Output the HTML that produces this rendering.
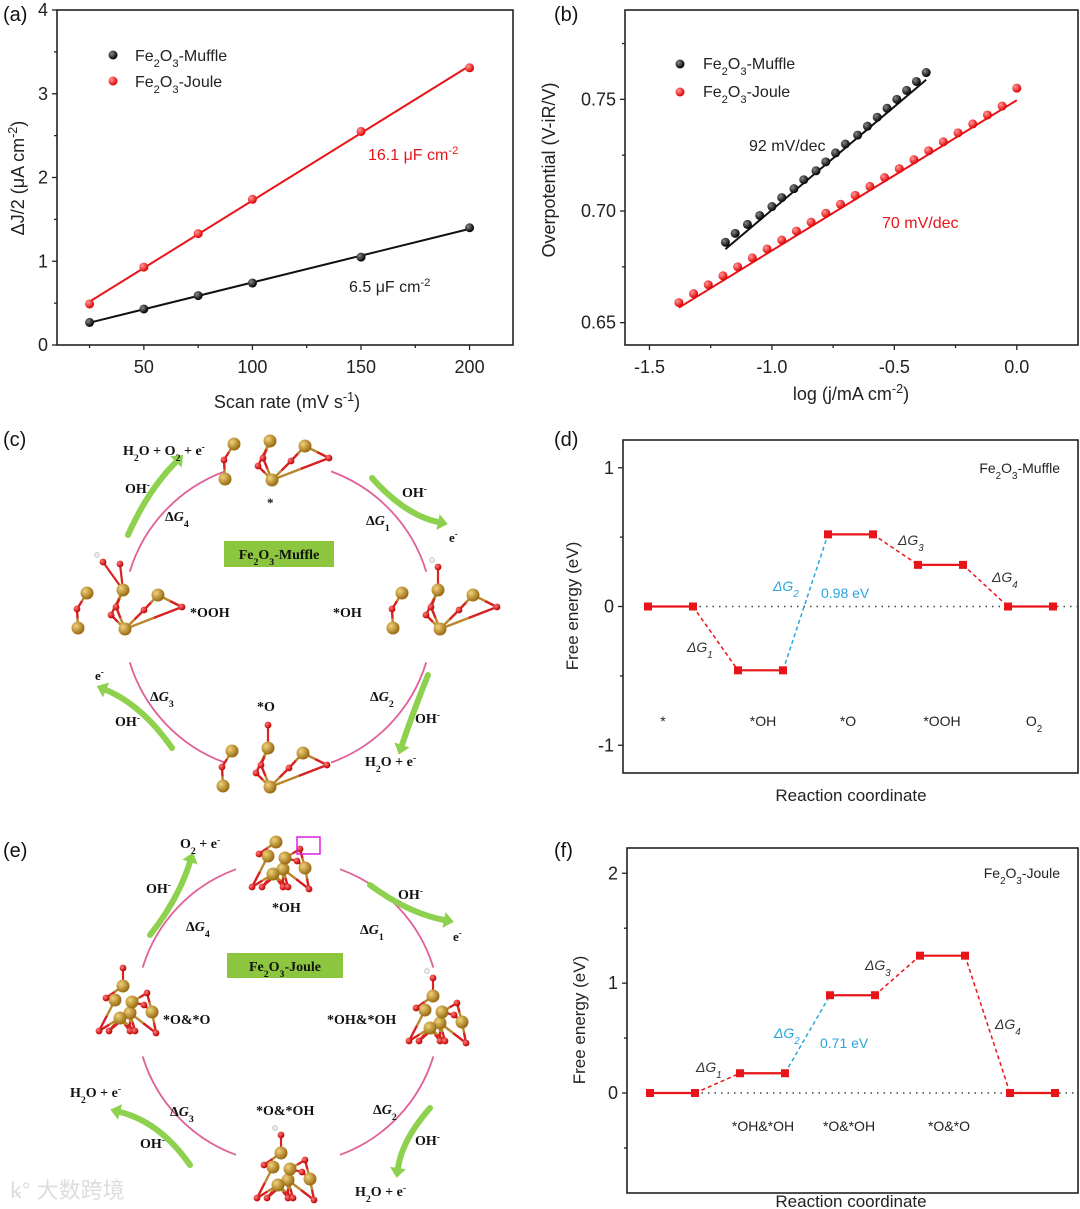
<!DOCTYPE html>
<html><head><meta charset="utf-8">
<style>
html,body{margin:0;padding:0;background:#fff;}
svg{display:block;}
text{font-family:"Liberation Sans",Arial,sans-serif;}
.sf{font-family:"Liberation Serif","Times New Roman",serif;font-weight:bold;}
</style></head>
<body>
<svg id="fig" width="1080" height="1209" viewBox="0 0 1080 1209" xmlns="http://www.w3.org/2000/svg">
<defs>
<radialGradient id="feg" cx="35%" cy="35%" r="65%"><stop offset="0" stop-color="#f0d27a"/><stop offset="1" stop-color="#9a6b12"/></radialGradient>
<radialGradient id="og" cx="35%" cy="35%" r="65%"><stop offset="0" stop-color="#ff7a7a"/><stop offset="1" stop-color="#c00000"/></radialGradient>
<radialGradient id="blk" cx="35%" cy="35%" r="65%"><stop offset="0" stop-color="#888"/><stop offset="1" stop-color="#000"/></radialGradient>
<radialGradient id="red" cx="35%" cy="35%" r="65%"><stop offset="0" stop-color="#ff9a9a"/><stop offset="1" stop-color="#e00000"/></radialGradient>
</defs>
<g id="panel-labels" font-size="20" fill="#111">
<text x="3" y="21">(a)</text>
<text x="554" y="21">(b)</text>
<text x="3" y="446">(c)</text>
<text x="554" y="446">(d)</text>
<text x="3" y="857">(e)</text>
<text x="554" y="857">(f)</text>
</g>
<g id="layer"></g>
<text x="10" y="1198" font-size="22" fill="#ddd" font-family="'Liberation Sans','Noto Sans CJK SC',sans-serif">ꝃ° 大数跨境</text>
</svg>
<script>
// ---------- Panel (a) data ----------
const aScan = [25, 50, 75, 100, 150, 200];
const aMuffle = [0.27, 0.43, 0.59, 0.74, 1.05, 1.40];
const aJoule = [0.49, 0.93, 1.33, 1.74, 2.55, 3.31];
const aXTicks = [50, 100, 150, 200];
const aYTicks = [0, 1, 2, 3, 4];
// ---------- Panel (b) data ----------
const bMuffleX = [-1.19,-1.15,-1.10,-1.05,-1.00,-0.96,-0.91,-0.87,-0.82,-0.78,-0.74,-0.70,-0.65,-0.61,-0.57,-0.53,-0.49,-0.45,-0.41,-0.37];
const bMuffleY = [0.686,0.690,0.694,0.698,0.702,0.706,0.710,0.714,0.718,0.722,0.726,0.730,0.734,0.738,0.742,0.746,0.750,0.754,0.758,0.762];
const bJouleX = [-1.38,-1.32,-1.26,-1.20,-1.14,-1.08,-1.02,-0.96,-0.90,-0.84,-0.78,-0.72,-0.66,-0.60,-0.54,-0.48,-0.42,-0.36,-0.30,-0.24,-0.18,-0.12,-0.06,0.00];
const bJouleY = [0.659,0.663,0.667,0.671,0.675,0.679,0.683,0.687,0.691,0.695,0.699,0.703,0.707,0.711,0.715,0.719,0.723,0.727,0.731,0.735,0.739,0.743,0.747,0.755];
const bXTicks = [-1.5, -1.0, -0.5, 0.0];
const bXTickLabels = ["-1.5", "-1.0", "-0.5", "0.0"];
const bYTicks = [0.65, 0.70, 0.75];
const bYTickLabels = ["0.65", "0.70", "0.75"];
// ---------- Panel (d) data ----------
const dSteps = ["*", "*OH", "*O", "*OOH", "O2"];
const dEnergy = [0, -0.46, 0.52, 0.30, 0];
const dYTicks = [-1, 0, 1];
// ---------- Panel (f) data ----------
const fSteps = ["", "*OH&*OH", "*O&*OH", "*O&*O", ""];
const fEnergy = [0, 0.18, 0.89, 1.25, 0];
const fYTicks = [0, 1, 2];

const NS = "http://www.w3.org/2000/svg";
const layer = document.getElementById('layer');
function mk(tag, attrs, parent){
  const e = document.createElementNS(NS, tag);
  for (const k in attrs) e.setAttribute(k, attrs[k]);
  (parent||layer).appendChild(e);
  return e;
}
function lin(d0,d1,r0,r1){ return v => r0 + (v-d0)/(d1-d0)*(r1-r0); }
function fit(xs, ys){
  const n=xs.length; let sx=0,sy=0,sxx=0,sxy=0;
  for(let i=0;i<n;i++){sx+=xs[i];sy+=ys[i];sxx+=xs[i]*xs[i];sxy+=xs[i]*ys[i];}
  const m=(n*sxy-sx*sy)/(n*sxx-sx*sx); return {m, b:(sy-m*sx)/n};
}
const SUB = s=>`<tspan baseline-shift="sub" font-size="0.7em">${s}</tspan>`;
const SUP = s=>`<tspan baseline-shift="super" font-size="0.7em">${s}</tspan>`;
function frame(g, x0,y0,x1,y1){
  const r = mk('rect',{x:x0,y:y0,width:x1-x0,height:y1-y0,fill:'none',stroke:'#222','stroke-width':1.6},g);
  
  
}
function xTick(g, x, y, len){ mk('line',{x1:x,x2:x,y1:y,y2:y+len,stroke:'#222','stroke-width':1.3},g); }
function yTick(g, x, y, len){ mk('line',{x1:x-len,x2:x,y1:y,y2:y,stroke:'#222','stroke-width':1.3},g); }
function txt(g, x, y, s, attrs){
  const t = mk('text', Object.assign({x:x,y:y}, attrs||{}), g);
  t.innerHTML = s;
  return t;
}
function dot(g, x, y, fill){ return mk('circle',{cx:x,cy:y,r:4.5,fill:fill},g); }

// ================= Panel (a) =================
(function(){
  const g = mk('g',{});
  
  
  const X0=57,X1=513,Y0=10,Y1=345;
  const xs = lin(10,220,X0,X1), ys = lin(0,4,Y1,Y0);
  frame(g,X0,Y0,X1,Y1);
  aXTicks.forEach(v=>{ xTick(g,xs(v),Y1,5); const t=txt(g,xs(v),Y1+28,String(v),{'font-size':18,'text-anchor':'middle',fill:'#222'});
      });
  [25,75,125,175].forEach(v=>xTick(g,xs(v),Y1,3));
  aYTicks.forEach(v=>{ yTick(g,X0,ys(v),5); const t=txt(g,X0-9,ys(v)+6,String(v),{'font-size':18,'text-anchor':'end',fill:'#222'});
      });
  [0.5,1.5,2.5,3.5].forEach(v=>yTick(g,X0,ys(v),3));
  const xt = txt(g,287,408,'Scan rate (mV s'+SUP('-1')+')',{'font-size':18,'text-anchor':'middle',fill:'#222'});
   
  const yt = txt(g,0,0,'ΔJ/2 (μA cm'+SUP('-2')+')',{'font-size':18,'text-anchor':'middle',fill:'#222',transform:'translate(24,178) rotate(-90)'});
   
  [[aMuffle,'#111','url(#blk)','muffle'],[aJoule,'#e8141a','url(#red)','joule']].forEach(([vals,col,fill,nm])=>{
    const f = fit(aScan, vals);
    const l = mk('line',{x1:xs(aScan[0]),y1:ys(f.m*aScan[0]+f.b),x2:xs(aScan[aScan.length-1]),y2:ys(f.m*aScan[aScan.length-1]+f.b),stroke:col,'stroke-width':2},g);
     
    vals.forEach((v,i)=>{ const c=dot(g,xs(aScan[i]),ys(v),fill);
        });
  });
  const lg = mk('g',{},g);
   
  dot(lg,113,55,'url(#blk)'); dot(lg,113,81,'url(#red)');
  txt(lg,135,61,'Fe'+SUB('2')+'O'+SUB('3')+'-Muffle',{'font-size':16,fill:'#222'});
  txt(lg,135,87,'Fe'+SUB('2')+'O'+SUB('3')+'-Joule',{'font-size':16,fill:'#222'});
  const a1=txt(g,368,160,'16.1 μF cm'+SUP('-2'),{'font-size':16,fill:'#e8141a'});
   
  const a2=txt(g,349,292,'6.5 μF cm'+SUP('-2'),{'font-size':16,fill:'#222'});
   
})();

// ================= Panel (b) =================
(function(){
  const g = mk('g',{});
  
  
  const X0=625,X1=1078,Y0=10,Y1=345;
  const xs = lin(-1.6,0.25,X0,X1), ys = lin(0.64,0.79,Y1,Y0);
  frame(g,X0,Y0,X1,Y1);
  bXTicks.forEach((v,i)=>{ xTick(g,xs(v),Y1,5); const t=txt(g,xs(v),Y1+28,bXTickLabels[i],{'font-size':18,'text-anchor':'middle',fill:'#222'});
      });
  [-1.25,-0.75,-0.25].forEach(v=>xTick(g,xs(v),Y1,3));
  bYTicks.forEach((v,i)=>{ yTick(g,X0,ys(v),5); const t=txt(g,X0-9,ys(v)+6,bYTickLabels[i],{'font-size':18,'text-anchor':'end',fill:'#222'});
      });
  [0.675,0.725,0.775].forEach(v=>yTick(g,X0,ys(v),3));
  const xt = txt(g,851,400,'log (j/mA cm'+SUP('-2')+')',{'font-size':18,'text-anchor':'middle',fill:'#222'});
   
  const yt = txt(g,0,0,'Overpotential (V-iR/V)',{'font-size':18,'text-anchor':'middle',fill:'#222',transform:'translate(555,170) rotate(-90)'});
   
  [[bMuffleX,bMuffleY,'#111','url(#blk)','muffle'],[bJouleX,bJouleY,'#e8141a','url(#red)','joule']].forEach(([X,Y,col,fill,nm])=>{
    const f = fit(X,Y); const xa=X[0], xb=X[X.length-1];
    const l = mk('line',{x1:xs(xa),y1:ys(f.m*xa+f.b-0.002),x2:xs(xb),y2:ys(f.m*xb+f.b-0.002),stroke:col,'stroke-width':2},g);
     
    X.forEach((x,i)=>{ const c=dot(g,xs(x),ys(Y[i]),fill);
        });
  });
  const lg = mk('g',{},g);
   
  dot(lg,680,64,'url(#blk)'); dot(lg,680,92,'url(#red)');
  txt(lg,703,69,'Fe'+SUB('2')+'O'+SUB('3')+'-Muffle',{'font-size':16,fill:'#222'});
  txt(lg,703,97,'Fe'+SUB('2')+'O'+SUB('3')+'-Joule',{'font-size':16,fill:'#222'});
  const a1=txt(g,749,151,'92 mV/dec',{'font-size':16,fill:'#222'});
   
  const a2=txt(g,882,228,'70 mV/dec',{'font-size':16,fill:'#e8141a'});
   
})();

// ================= Energy diagrams (d,f) =================
function energy(opts){
  const g = mk('g',{});
  
  
  const {X0,X1,Y0,Y1,ymin,ymax,vals,steps,ticks,minor} = opts;
  const ys = lin(ymin,ymax,Y1,Y0);
  const xs = i => opts.xStart + 90*i;
  frame(g,X0,Y0,X1,Y1);
  ticks.forEach(v=>{ yTick(g,X0,ys(v),5); const t=txt(g,X0-9,ys(v)+6,String(v),{'font-size':18,'text-anchor':'end',fill:'#222'});
      });
  minor.forEach(v=>yTick(g,X0,ys(v),3));
  const z = mk('line',{x1:xs(0)+45,x2:X1,y1:ys(0),y2:ys(0),stroke:'#444','stroke-width':1.5,'stroke-dasharray':'1.5 5'},g);
   
  for(let i=0;i<vals.length-1;i++){
    const col = i===1 ? '#2aa5dc' : '#e8141a';
    const c = mk('line',{x1:xs(i)+45,y1:ys(vals[i]),x2:xs(i+1),y2:ys(vals[i+1]),stroke:col,'stroke-width':1.5,'stroke-dasharray':'4 3'},g);
     
  }
  vals.forEach((v,i)=>{
    const l = mk('line',{x1:xs(i),x2:xs(i)+45,y1:ys(v),y2:ys(v),stroke:'#e8141a','stroke-width':2.2},g);
     
    [xs(i),xs(i)+45].forEach(x=>{ const r=mk('rect',{x:x-4,y:ys(v)-4,width:8,height:8,fill:'#e8141a'},g);
        });
    if(steps[i]){ const s = steps[i]==='O2' ? 'O'+SUB('2') : steps[i].replace(/&/g,'&amp;');
      const t=txt(g,opts.labelX[i],opts.labelY,s,{'font-size':14,'text-anchor':'middle',fill:'#222'});
        }
  });
  const yt = txt(g,0,0,'Free energy (eV)',{'font-size':17,'text-anchor':'middle',fill:'#222',transform:`translate(${opts.ytx},${opts.yty}) rotate(-90)`});
   
  const xt = txt(g,851,opts.xty,'Reaction coordinate',{'font-size':17,'text-anchor':'middle',fill:'#222'});
   
  const nm = txt(g,1060,opts.nameY,'Fe'+SUB('2')+'O'+SUB('3')+opts.sample,{'font-size':14,'text-anchor':'end',fill:'#222'});
   
  opts.dg.forEach((p,i)=>{
    const col = i===1 ? '#2aa5dc' : '#333';
    const t = txt(g,p[0],p[1],'ΔG'+SUB(String(i+1)),{'font-size':14,'font-style':'italic',fill:col});
     
  });
  const b = txt(g,opts.barrier[0],opts.barrier[1],opts.barrier[2],{'font-size':14,fill:'#2aa5dc'});
   
}
energy({name:'panel-d-chart',X0:623,X1:1078,Y0:440,Y1:773,ymin:-1.2,ymax:1.2,vals:dEnergy,steps:dSteps,ticks:dYTicks,minor:[-0.5,0.5],
  xStart:648,labelX:[663,763,848,942,1034],labelY:726,ytx:578,yty:606,xty:801,nameY:473,sample:'-Muffle',
  dg:[[687,652],[773,591],[898,545],[992,582]],barrier:[821,598,'0.98 eV']});
energy({name:'panel-f-chart',X0:627,X1:1078,Y0:848,Y1:1193,ymin:-0.91,ymax:2.23,vals:fEnergy,steps:fSteps,ticks:fYTicks,minor:[-0.5,0.5,1.5],
  xStart:650,labelX:[0,763,849,949,0],labelY:1131,ytx:585,yty:1020,xty:1207,nameY:878,sample:'-Joule',
  dg:[[696,1072],[774,1038],[865,970],[995,1029]],barrier:[820,1048,'0.71 eV']});

// ================= Schematics (c,e) =================
const muffleFe = [[-38,-19],[-2,-22],[33,-17],[-47,16],[0,17]];
const muffleO = [[-48,-3],[-14,3],[-9,-5],[19,-2],[57,-5]];
const jouleFe = [[-7,-24],[-15,-10],[0,3],[-10,8],[22,2],[2,-8]];
const jouleO = [[-24,-12],[-31,21],[-21,21],[0,21],[5,21],[26,23],[17,-17],[14,-5]];
function molecule(g, cx, cy, Fe, O, extra){
  const m = mk('g',{},g);
  
  
  O.forEach(o=>{
    const d = Fe.map(f=>[Math.hypot(f[0]-o[0],f[1]-o[1]),f]).sort((a,b)=>a[0]-b[0]);
    d.slice(0,2).forEach(([_,f])=>{
      const mx=(o[0]+f[0])/2, my=(o[1]+f[1])/2;
      mk('line',{x1:cx+o[0],y1:cy+o[1],x2:cx+mx,y2:cy+my,stroke:'#d82020','stroke-width':2.4},m);
      mk('line',{x1:cx+mx,y1:cy+my,x2:cx+f[0],y2:cy+f[1],stroke:'#b8862b','stroke-width':2.4},m);
    });
  });
  (extra||[]).forEach(e=>{ mk('line',{x1:cx+e[0],y1:cy+e[1],x2:cx+e[2],y2:cy+e[3],stroke:'#d22','stroke-width':2.2},m);
    mk('circle',{cx:cx+e[0],cy:cy+e[1],r:3.4,fill:'url(#og)'},m);
    if(e[4]) mk('circle',{cx:cx+e[0]-6,cy:cy+e[1]-7,r:2.4,fill:'#eee',stroke:'#aaa','stroke-width':0.6},m); });
  Fe.forEach(f=>mk('circle',{cx:cx+f[0],cy:cy+f[1],r:6.5,fill:'url(#feg)'},m));
  O.forEach(o=>mk('circle',{cx:cx+o[0],cy:cy+o[1],r:3.4,fill:'url(#og)'},m));
}
function arrow(g, p0, c, p1){
  const a = mk('g',{},g);
  
  
  mk('path',{d:`M${p0[0]},${p0[1]} Q${c[0]},${c[1]} ${p1[0]},${p1[1]}`,fill:'none',stroke:'#8dd14f','stroke-width':6,'stroke-linecap':'round'},a);
  const dx=p1[0]-c[0], dy=p1[1]-c[1], L=Math.hypot(dx,dy), ux=dx/L, uy=dy/L;
  const tip=[p1[0]+ux*10,p1[1]+uy*10];
  const b1=[p1[0]-uy*8,p1[1]+ux*8], b2=[p1[0]+uy*8,p1[1]-ux*8];
  mk('polygon',{points:`${tip[0]},${tip[1]} ${b1[0]},${b1[1]} ${b2[0]},${b2[1]}`,fill:'#8dd14f'},a);
}
function cycle(name, cx, cy, r){
  const g = mk('g',{});
  
  
  [[-70,-17],[17,70],[110,163],[197,250]].forEach(([a0,a1])=>{
    const p=a=>[cx+r*Math.cos(a*Math.PI/180), cy+r*Math.sin(a*Math.PI/180)];
    const s=p(a0), e=p(a1);
    const arc = mk('path',{d:`M${s[0]},${s[1]} A${r},${r} 0 0 1 ${e[0]},${e[1]}`,fill:'none',stroke:'#e0609a','stroke-width':1.8},g);
     
  });
  return g;
}
function label(g,x,y,s,size,anchor){
  const t = txt(g,x,y,s,{'font-size':size||14,'text-anchor':anchor||'start',fill:'#111','class':'sf'});
   
  return t;
}
const dG = n=>`Δ<tspan font-style="italic">G</tspan>${SUB(n)}`;

// (c)
(function(){
  const g = cycle('panel-c-muffle-cycle',278,617,155);
  arrow(g,[128,535],[148,490],[176,462]);
  arrow(g,[372,478],[405,515],[438,522]);
  arrow(g,[428,675],[412,715],[402,745]);
  arrow(g,[172,748],[142,705],[106,690]);
  molecule(g,272,463,muffleFe,muffleO);
  molecule(g,440,612,muffleFe,muffleO,[[-2,-45,-2,-22,true]]);
  molecule(g,125,612,muffleFe,muffleO,[[-22,-50,-2,-22,true],[-5,-48,-2,-22,false]]);
  molecule(g,270,770,muffleFe,muffleO,[[-2,-45,-2,-22,false]]);
  label(g,123,455,'H'+SUB('2')+'O + O'+SUB('2')+' + e'+SUP('-'),14);
  label(g,125,493,'OH'+SUP('-'),14);
  label(g,165,521,dG('4'),14);
  label(g,267,507,'*',13);
  label(g,402,497,'OH'+SUP('-'),14);
  label(g,366,525,dG('1'),14);
  label(g,449,542,'e'+SUP('-'),13);
  label(g,190,617,'*OOH',14);
  label(g,333,617,'*OH',14);
  label(g,95,680,'e'+SUP('-'),13);
  label(g,150,701,dG('3'),14);
  label(g,115,726,'OH'+SUP('-'),14);
  label(g,257,711,'*O',14);
  label(g,370,701,dG('2'),14);
  label(g,415,723,'OH'+SUP('-'),14);
  label(g,365,766,'H'+SUB('2')+'O + e'+SUP('-'),14);
  const bx = mk('rect',{x:224,y:541,width:110,height:26,fill:'#8cc63f'},g);
   
  label(g,279,559,'Fe'+SUB('2')+'O'+SUB('3')+'-Muffle',14,'middle');
})();

// (e)
(function(){
  const g = cycle('panel-e-joule-cycle',288,1012,152);
  arrow(g,[150,935],[178,900],[190,862]);
  arrow(g,[370,885],[408,913],[444,920]);
  arrow(g,[430,1108],[402,1140],[398,1168]);
  arrow(g,[190,1165],[160,1122],[120,1112]);
  molecule(g,283,866,jouleFe,jouleO);
  const bx2 = mk('rect',{x:297,y:837,width:23,height:17,fill:'none',stroke:'#e020e0','stroke-width':1.5},g);
   
  molecule(g,440,1020,jouleFe,jouleO,[[-7,-42,-7,-24,true]]);
  molecule(g,130,1010,jouleFe,jouleO,[[-7,-42,-7,-24,false]]);
  molecule(g,288,1177,jouleFe,jouleO,[[-7,-42,-7,-24,true]]);
  label(g,180,848,'O'+SUB('2')+' + e'+SUP('-'),14);
  label(g,146,893,'OH'+SUP('-'),14);
  label(g,186,931,dG('4'),14);
  label(g,272,912,'*OH',14);
  label(g,398,899,'OH'+SUP('-'),14);
  label(g,360,934,dG('1'),14);
  label(g,453,941,'e'+SUP('-'),13);
  label(g,163,1024,'*O&amp;*O',14);
  label(g,327,1024,'*OH&amp;*OH',14);
  label(g,70,1097,'H'+SUB('2')+'O + e'+SUP('-'),14);
  label(g,170,1116,dG('3'),14);
  label(g,140,1148,'OH'+SUP('-'),14);
  label(g,256,1115,'*O&amp;*OH',14);
  label(g,373,1114,dG('2'),14);
  label(g,415,1145,'OH'+SUP('-'),14);
  label(g,355,1196,'H'+SUB('2')+'O + e'+SUP('-'),14);
  const bx = mk('rect',{x:227,y:953,width:116,height:25,fill:'#8cc63f'},g);
   
  label(g,285,971,'Fe'+SUB('2')+'O'+SUB('3')+'-Joule',14,'middle');
})();
</script>
</body></html>
